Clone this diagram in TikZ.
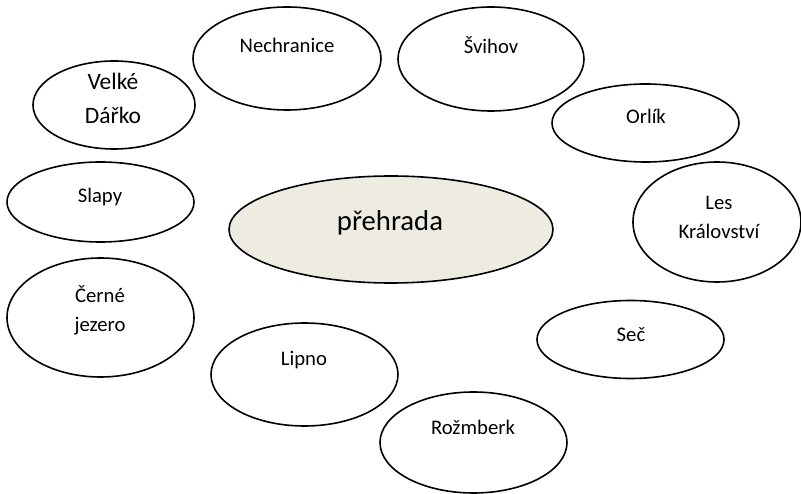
\documentclass[tikz,border=0pt]{standalone}
\usepackage{fontspec}
\setmainfont{Carlito}
\usetikzlibrary{shapes.geometric}
\definecolor{tanbg}{HTML}{EEECE1}
\begin{document}
\begin{tikzpicture}[x=1pt,y=-1pt,
  bub/.style={draw=black, line width=1.6pt, ellipse, inner sep=0pt, outer sep=0pt},
  lbl/.style={inner sep=0pt, align=center, font=\fontsize{20.7}{29}\selectfont},
  biglbl/.style={inner sep=0pt, align=center, font=\fontsize{23.5}{34}\selectfont},
  mainlbl/.style={inner sep=0pt, align=center, font=\fontsize{28.7}{34}\selectfont}]
\useasboundingbox (0,0) rectangle (801,494);
% ellipses
\node[bub, fill=tanbg, minimum width=324pt, minimum height=107pt] (preh) at (391,229.5) {};
\node[bub, minimum width=188pt, minimum height=103pt] (nech) at (287,58.5) {};
\node[bub, minimum width=186pt, minimum height=104pt] (svih) at (491,59) {};
\node[bub, minimum width=162pt, minimum height=88pt] (velk) at (114,105) {};
\node[bub, minimum width=187pt, minimum height=78pt] (orli) at (645.5,123) {};
\node[bub, minimum width=187pt, minimum height=80pt] (slap) at (100.5,202) {};
\node[bub, minimum width=168pt, minimum height=120pt] (lesk) at (717,222) {};
\node[bub, minimum width=187pt, minimum height=119pt] (cern) at (100.5,317.5) {};
\node[bub, minimum width=187pt, minimum height=78pt] (secc) at (630.5,339.5) {};
\node[bub, minimum width=187pt, minimum height=103pt] (lipn) at (304.5,374.5) {};
\node[bub, minimum width=187pt, minimum height=101pt] (rozm) at (473.5,442.5) {};
% labels
\node[mainlbl] (prehT) at (390,222.5) {přehrada};
\node[lbl] (nechT) at (287,45.5) {Nechranice};
\node[lbl] (svihT) at (491,45) {Švihov};
\node[biglbl] (velkT) at (113,98) {Velké\\Dářko};
\node[lbl] (orliT) at (646,116.5) {Orlík};
\node[lbl] (slapT) at (100,196.5) {Slapy};
\node[lbl] (leskT) at (719,217.5) {Les\\Království};
\node[lbl] (cernT) at (100,310.5) {Černé\\jezero};
\node[lbl] (seccT) at (631,334.5) {Seč};
\node[lbl] (lipnT) at (304,360.5) {Lipno};
\node[lbl] (rozmT) at (473,427.5) {Rožmberk};
\end{tikzpicture}
\end{document}
